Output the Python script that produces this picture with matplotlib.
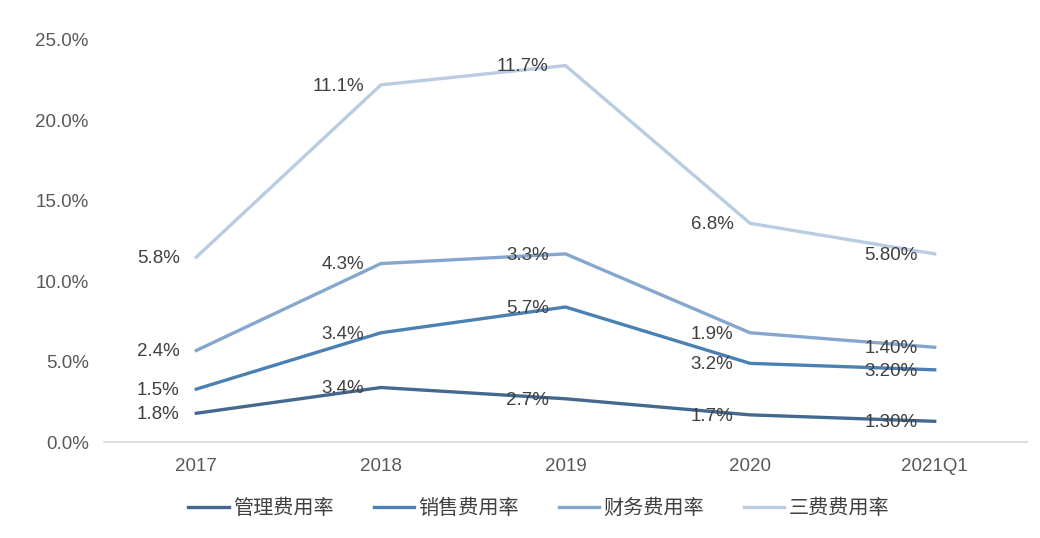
import numpy as np
import matplotlib.pyplot as plt

plt.rcParams['font.family'] = ['Liberation Sans', 'Noto Sans CJK SC', 'DejaVu Sans']

categories = ['2017', '2018', '2019', '2020', '2021Q1']
series_names = ['管理费用率', '销售费用率', '财务费用率', '三费费用率']

# individual rates (%), stacked on top of each other in the chart
admin = [1.8, 3.4, 2.7, 1.7, 1.3]
sales = [1.5, 3.4, 5.7, 3.2, 3.2]
finance = [2.4, 4.3, 3.3, 1.9, 1.4]
total = [5.8, 11.1, 11.7, 6.8, 5.8]

admin_labels = ['1.8%', '3.4%', '2.7%', '1.7%', '1.30%']
sales_labels = ['1.5%', '3.4%', '5.7%', '3.2%', '3.20%']
finance_labels = ['2.4%', '4.3%', '3.3%', '1.9%', '1.40%']
total_labels = ['5.8%', '11.1%', '11.7%', '6.8%', '5.80%']

colors = ['#44698f', '#4a80b2', '#85a7cd', '#b9cce2']

fig = plt.figure(figsize=(10.4, 5.38), dpi=100)
ax = fig.add_axes([0.1, 0.178, 0.8875, 0.748])

x = np.arange(len(categories))
stack = np.cumsum([admin, sales, finance, total], axis=0)
all_labels = [admin_labels, sales_labels, finance_labels, total_labels]

for i in range(4):
    ax.plot(x, stack[i], color=colors[i], lw=2.4, label=series_names[i],
            solid_joinstyle='miter')
    for xi, yi, lab in zip(x, stack[i], all_labels[i]):
        ax.annotate(lab, (xi, yi), xytext=(-12, -1), textcoords='offset points',
                    ha='right', va='center', fontsize=13.5, color='#404040')

ax.set_xlim(-0.5, 4.5)
ax.set_ylim(0, 25)
ax.set_yticks(np.arange(0, 26, 5))
ax.set_yticklabels(['%.1f%%' % v for v in np.arange(0, 26, 5)])
ax.set_xticks(x)
ax.set_xticklabels(categories)
ax.tick_params(length=0, labelsize=13.5, colors='#595959')
ax.tick_params(axis='x', pad=11)
ax.tick_params(axis='y', pad=11)
for s in ['top', 'right', 'left']:
    ax.spines[s].set_visible(False)
ax.spines['bottom'].set_color('#d9d9d9')
ax.spines['bottom'].set_linewidth(1.2)

leg = fig.legend(loc='center', bbox_to_anchor=(0.518, 0.055), ncol=4, frameon=False,
                 handlelength=2.0, handletextpad=0.2, columnspacing=2.0,
                 prop={'family': ['Noto Sans CJK SC'], 'size': 14.5})
for t in leg.get_texts():
    t.set_color('#404040')

fig.savefig('out.png', dpi=100)
